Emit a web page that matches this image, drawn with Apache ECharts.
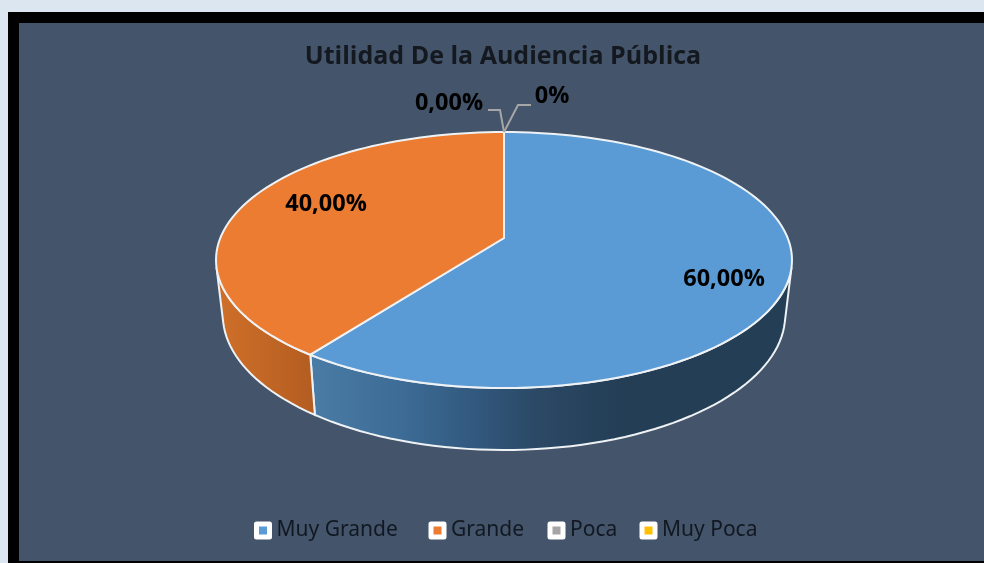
<!DOCTYPE html>
<html>
<head>
<meta charset="utf-8">
<style>
  html, body { margin: 0; padding: 0; background: #dce6f1; }
  #chart { width: 984px; height: 563px; }
</style>
<script src="https://cdn.jsdelivr.net/npm/echarts@6/dist/echarts.min.js"></script>
</head>
<body>
<div id="chart"></div>
<script>
const categories = ['Muy Grande', 'Grande', 'Poca', 'Muy Poca']
const values = [60, 40, 0, 0]
const labels = ['60,00%', '40,00%', '0,00%', '0%']
const colors = ['#5b9bd5', '#eb7c31', '#a5a5a5', '#ffc000']

// disc projection, fitted to the picture
const CX = 504
const PERSP = 0.172
const topRim = { y0: 238, a: 124.2, c: 283.7 }
const lowRim = { y0: 291.8, a: 131, c: 277 }
// walls are only visible between these angles (deg, clockwise from top)
const WALL_FROM = 103
const WALL_TO = 257

const wallColors = [
  [[300, '#4a7ca6'], [400, '#3d6c96'], [480, '#31577c'], [540, '#2b4865'], [620, '#233e55'], [790, '#233e55']],
  [[216, '#cf7029'], [314, '#b45d21']]
]
const labelPos = [[724, 279], [326, 204], [449, 103], [552, 96]]
const leaderLines = [
  null,
  null,
  [[488, 110], [500, 110], [504, 132]],
  [[531, 105], [518, 105], [504, 132]]
]
const legendLeft = [254, 428.5, 547.5, 639.5]

const total = values.reduce((a, b) => a + b, 0)

const project = (rim, deg) => {
  const t = deg * Math.PI / 180
  const u = Math.sin(t)
  const v = -Math.cos(t)
  const w = 1 - PERSP * v
  return [CX + rim.c * u / w, rim.y0 + rim.a * v / w]
}

const arc = (rim, from, to) => {
  const pts = []
  const n = Math.max(1, Math.ceil(Math.abs(to - from) / 2))
  for (let i = 0; i <= n; i++) {
    pts.push(project(rim, from + (to - from) * i / n))
  }
  return pts
}

const WHITE = '#eef2f5'

const renderSlice = index => (params, api) => {
  const val = api.value(0)
  const before = values.slice(0, index).reduce((a, b) => a + b, 0)
  const start = before / total * 360
  const end = start + val / total * 360
  const children = []

  if (val > 0) {
    const from = Math.max(start, WALL_FROM)
    const to = Math.min(end, WALL_TO)
    if (to > from) {
      const upper = arc(topRim, from, to)
      const lower = arc(lowRim, to, from)
      const xs = upper.concat(lower).map(p => p[0])
      const x0 = Math.min(...xs)
      const x1 = Math.max(...xs)
      children.push({
        type: 'polygon',
        shape: { points: upper.concat(lower) },
        style: {
          fill: new echarts.graphic.LinearGradient(x0, 0, x1, 0, wallColors[index].map(s => ({
            offset: Math.min(1, Math.max(0, (s[0] - x0) / (x1 - x0))),
            color: s[1]
          })), true),
          stroke: WHITE,
          lineWidth: 2
        }
      })
    }
    children.push({
      type: 'polygon',
      shape: { points: [[CX, topRim.y0]].concat(arc(topRim, start, end)) },
      style: { fill: colors[index], stroke: WHITE, lineWidth: 2, lineJoin: 'round' }
    })
  }

  if (leaderLines[index]) {
    children.push({
      type: 'polyline',
      shape: { points: leaderLines[index] },
      style: { fill: null, stroke: '#a6a6a6', lineWidth: 2 }
    })
  }

  children.push({
    type: 'text',
    z2: 10,
    style: {
      text: labels[index],
      x: labelPos[index][0],
      y: labelPos[index][1],
      align: 'center',
      verticalAlign: 'middle',
      fill: '#000',
      font: 'bold 23.5px "Open Sans"'
    }
  })
  return { type: 'group', children }
}

const chart = echarts.init(document.getElementById('chart'), null, { renderer: 'canvas' })

chart.setOption({
  animation: false,
  backgroundColor: '#dce6f1',
  title: {
    text: 'Utilidad De la Audiencia Pública',
    left: 498,
    top: 52,
    textAlign: 'center',
    textVerticalAlign: 'middle',
    textStyle: { color: '#14181f', fontSize: 25, fontWeight: 'bold', fontFamily: 'Open Sans' }
  },
  legend: categories.map((name, i) => ({
    data: [name],
    left: legendLeft[i],
    top: 520,
    padding: 0,
    icon: 'rect',
    itemWidth: 13,
    itemHeight: 13,
    itemStyle: { borderColor: '#fff', borderWidth: 5, borderJoin: 'round' },
    textStyle: { color: '#111822', fontSize: 21, fontFamily: 'Noto Sans', padding: [0, 0, 0, 2] }
  })),
  graphic: [
    { type: 'rect', z: -2, shape: { x: 8, y: 12, width: 976, height: 551 }, style: { fill: '#000' } },
    { type: 'rect', z: -1, shape: { x: 19, y: 23, width: 965, height: 538 }, style: { fill: '#44546a' } }
  ],
  series: categories.map((name, i) => ({
    type: 'custom',
    name,
    coordinateSystem: 'none',
    itemStyle: { color: colors[i] },
    renderItem: renderSlice(i),
    data: [[values[i]]]
  }))
})
</script>
</body>
</html>
